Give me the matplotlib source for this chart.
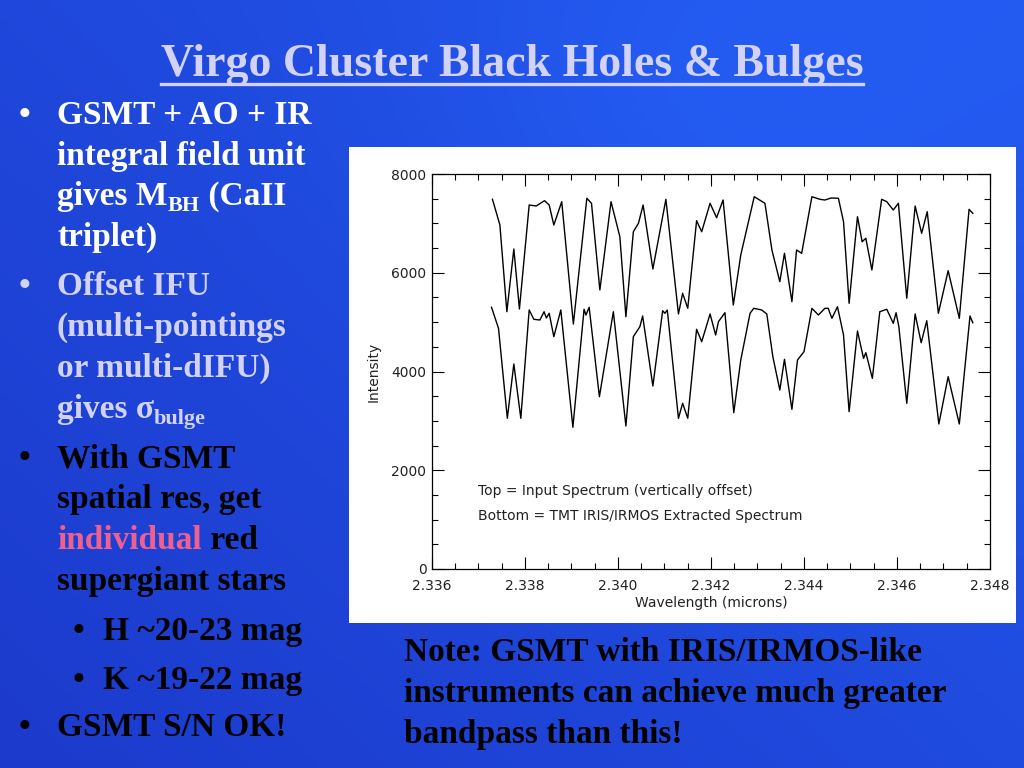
import numpy as np
import matplotlib
matplotlib.use("Agg")
import matplotlib.pyplot as plt
from matplotlib.ticker import MultipleLocator, FormatStrFormatter
from matplotlib.patches import Rectangle

# ---------------- data ----------------
top_wl = [2.33730, 2.33746, 2.33761, 2.33776, 2.33788, 2.33809, 2.33824, 2.33842,
          2.33852, 2.33862, 2.33879, 2.33904, 2.33933, 2.33943, 2.33961, 2.33985,
          2.34004, 2.34017, 2.34033, 2.34044, 2.34054, 2.34075, 2.34103, 2.34130,
          2.34139, 2.34150, 2.34169, 2.34180, 2.34198, 2.34212, 2.34226, 2.34248,
          2.34264, 2.34293, 2.34316, 2.34331, 2.34348, 2.34358, 2.34374, 2.34384,
          2.34395, 2.34417, 2.34434, 2.34445, 2.34458, 2.34474, 2.34485, 2.34497,
          2.34515, 2.34525, 2.34533, 2.34546, 2.34567, 2.34578, 2.34592, 2.34603,
          2.34621, 2.34639, 2.34653, 2.34665, 2.34689, 2.34710, 2.34734, 2.34755,
          2.34763]
top_int = [7488, 6968, 5211, 6481, 5266, 7372, 7352, 7459,
           7372, 6967, 7439, 4962, 7508, 7406, 5651, 7439,
           6730, 5110, 6831, 7002, 7372, 6076, 7488, 5165,
           5584, 5280, 7054, 6831, 7407, 7115, 7473, 5347,
           6359, 7540, 7407, 6461, 5819, 6394, 5414, 6461,
           6394, 7540, 7488, 7473, 7514, 7508, 7034, 5381,
           7135, 6629, 6698, 6056, 7488, 7439, 7271, 7407,
           5483, 7352, 6799, 7236, 5179, 6042, 5077, 7285,
           7204]

bot_wl = [2.33728, 2.33743, 2.33762, 2.33776, 2.33791, 2.33809, 2.33819, 2.33832,
          2.33841, 2.33846, 2.33852, 2.33862, 2.33877, 2.33903, 2.33927, 2.33931,
          2.33938, 2.33960, 2.33990, 2.34017, 2.34033, 2.34047, 2.34053, 2.34075,
          2.34096, 2.34101, 2.34106, 2.34130, 2.34139, 2.34150, 2.34169, 2.34180,
          2.34198, 2.34210, 2.34216, 2.34230, 2.34249, 2.34264, 2.34284, 2.34292,
          2.34309, 2.34320, 2.34333, 2.34348, 2.34358, 2.34374, 2.34386, 2.34400,
          2.34417, 2.34431, 2.34445, 2.34452, 2.34460, 2.34472, 2.34485, 2.34497,
          2.34515, 2.34528, 2.34533, 2.34547, 2.34563, 2.34578, 2.34592, 2.34598,
          2.34604, 2.34621, 2.34639, 2.34652, 2.34664, 2.34690, 2.34710, 2.34734,
          2.34757, 2.34763]
bot_int = [5300, 4875, 3052, 4152, 3052, 5246, 5057, 5043,
           5211, 5084, 5179, 4705, 5246, 2870, 5260, 5144,
           5300, 3490, 5211, 2896, 4705, 4907, 5124, 3706,
           5231, 5179, 5246, 3052, 3356, 3052, 4855, 4603,
           5165, 4739, 5009, 5191, 3166, 4233, 5179, 5280,
           5246, 5165, 4300, 3625, 4247, 3234, 4233, 4401,
           5280, 5144, 5280, 5280, 5077, 5312, 4739, 3186,
           4820, 4267, 4381, 3862, 5211, 5260, 4976, 5191,
           4907, 3356, 5165, 4583, 5029, 2937, 3895, 2937,
           5124, 4988]

title = "Virgo Cluster Black Holes & Bulges"
x_label = "Wavelength (microns)"
y_label = "Intensity"
note_top = "Top = Input Spectrum (vertically offset)"
note_bot = "Bottom = TMT IRIS/IRMOS Extracted Spectrum"

W, H = 1024, 768
fig = plt.figure(figsize=(W / 100, H / 100), dpi=100)

# ---------------- background ----------------
bg = fig.add_axes([0, 0, 1, 1])
yy, xx = np.mgrid[0:1:200j, 0:1:260j]
light = 0.45 * xx + 0.35 * (1 - yy) + 0.25 * np.exp(-((xx - 0.7) ** 2 + (yy - 0.15) ** 2) / 0.08)
light = (light - light.min()) / (light.max() - light.min())
c0 = np.array([0.11, 0.23, 0.80])
c1 = np.array([0.14, 0.36, 0.95])
img = c0[None, None, :] * (1 - light[..., None]) + c1[None, None, :] * light[..., None]
bg.imshow(img, extent=[0, 1, 0, 1], aspect="auto", interpolation="bilinear")
bg.set_xlim(0, 1)
bg.set_ylim(0, 1)
bg.axis("off")

def fx(px):
    return px / W

def fy(py):
    return 1 - py / H

# white panel
fig.patches.append(Rectangle((fx(349), fy(623)), (1016 - 349) / W, (623 - 147) / H,
                             transform=fig.transFigure, facecolor="white",
                             edgecolor="none", zorder=1))

# ---------------- chart ----------------
ax = fig.add_axes([fx(432), fy(569), (990 - 432) / W, (569 - 174) / H])
ax.set_zorder(3)
ax.plot(top_wl, top_int, color="black", lw=1.0)
ax.plot(bot_wl, bot_int, color="black", lw=1.0)
ax.set_xlim(2.336, 2.348)
ax.set_ylim(0, 8000)
ax.xaxis.set_major_locator(MultipleLocator(0.002))
ax.xaxis.set_minor_locator(MultipleLocator(0.0005))
ax.yaxis.set_major_locator(MultipleLocator(2000))
ax.yaxis.set_minor_locator(MultipleLocator(500))
ax.xaxis.set_major_formatter(FormatStrFormatter("%.3f"))
ax.yaxis.set_major_formatter(FormatStrFormatter("%d"))
ax.tick_params(which="both", direction="in", top=True, right=True, color="black",
               labelsize=10, labelcolor="#222222", width=0.8)
ax.tick_params(which="major", length=8.5)
ax.tick_params(which="minor", length=4.5)
ax.tick_params(axis="x", which="major", pad=7)
ax.tick_params(axis="y", which="major", pad=4)
for s in ax.spines.values():
    s.set_linewidth(0.9)
ax.set_xlabel(x_label, fontsize=10, color="#222222", labelpad=2)
ax.set_ylabel(y_label, fontsize=10, color="#222222", labelpad=8)
ax.text(2.33699, 1580, note_top, fontsize=10, color="#222222", va="center")
ax.text(2.33699, 1073, note_bot, fontsize=10, color="#222222", va="center")

# ---------------- slide text ----------------
SERIF = ["Liberation Serif", "DejaVu Serif"]
WHITE = "white"
LAV = "#d2d2fa"
PINK = "#f0608e"
BLACK = "black"
FS = 24
SUB = 16

t = fig.text(0.5, fy(76), title, ha="center", va="baseline", fontsize=33,
             fontweight="bold", family=SERIF, color=LAV, zorder=5)
fig.canvas.draw()
r = fig.canvas.get_renderer()
bb = t.get_window_extent(r)
fig.lines.append(plt.Line2D([bb.x0 / W, bb.x1 / W], [fy(84), fy(84)],
                            transform=fig.transFigure, color=LAV, lw=2.4, zorder=5))

def runs(xpx, base_py, parts):
    x = xpx
    for txt, col, size, dy in parts:
        tt = fig.text(fx(x), fy(base_py + dy), txt, ha="left", va="baseline",
                      fontsize=size, fontweight="bold", family=SERIF, color=col, zorder=5)
        e = tt.get_window_extent(r)
        x += e.width

def bullet(xpx, base_py, col):
    fig.text(fx(xpx), fy(base_py), "\u2022", ha="center", va="baseline", fontsize=FS,
             fontweight="bold", family=SERIF, color=col, zorder=5)

TX = 57

bullet(24, 124, WHITE)
runs(TX, 124, [("GSMT + AO + IR", WHITE, FS, 0)])
runs(TX, 165, [("integral field unit", WHITE, FS, 0)])
runs(TX, 205, [("gives M", WHITE, FS, 0), ("BH", WHITE, SUB, 6), (" (CaII", WHITE, FS, 0)])
runs(TX, 246, [("triplet)", WHITE, FS, 0)])

bullet(24, 295, LAV)
runs(TX, 295, [("Offset IFU", LAV, FS, 0)])
runs(TX, 336, [("(multi-pointings", LAV, FS, 0)])
runs(TX, 377, [("or multi-dIFU)", LAV, FS, 0)])
runs(TX, 418, [("gives \u03c3", LAV, FS, 0), ("bulge", LAV, SUB, 6)])

bullet(24, 467, BLACK)
runs(TX, 467, [("With GSMT", BLACK, FS, 0)])
runs(TX, 508, [("spatial res, get", BLACK, FS, 0)])
runs(TX, 549, [("individual", PINK, FS, 0), (" red", BLACK, FS, 0)])
runs(TX, 590, [("supergiant stars", BLACK, FS, 0)])

bullet(78, 640, BLACK)
runs(103, 640, [("H ~20-23 mag", BLACK, FS, 0)])
bullet(78, 689, BLACK)
runs(103, 689, [("K ~19-22 mag", BLACK, FS, 0)])

bullet(24, 736, BLACK)
runs(TX, 736, [("GSMT S/N OK!", BLACK, FS, 0)])

runs(404, 661, [("Note: GSMT with IRIS/IRMOS-like", BLACK, FS, 0)])
runs(404, 702, [("instruments can achieve much greater", BLACK, FS, 0)])
runs(404, 743, [("bandpass than this!", BLACK, FS, 0)])

fig.savefig("out.png", dpi=100)
